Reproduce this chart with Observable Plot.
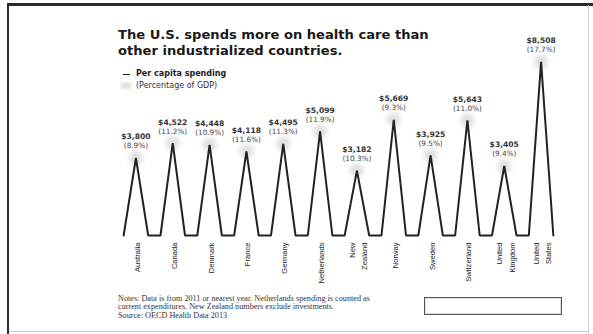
<!DOCTYPE html>
<html>
<head>
<meta charset="utf-8">
<script src="https://cdn.jsdelivr.net/npm/d3@7"></script>
<script src="https://cdn.jsdelivr.net/npm/@observablehq/plot@0.6"></script>
<style>
  html, body { margin: 0; padding: 0; background: #fff; }
  #wrap { position: relative; width: 593px; height: 334px; overflow: hidden; background: #fff; font-family: "DejaVu Sans", sans-serif; }
  #wrap svg { position: absolute; left: 0; top: 0; }
  .abs { position: absolute; white-space: nowrap; }
  #title { left: 118px; top: 27px; font-weight: bold; font-size: 13.1px; line-height: 15.7px; color: #1a1a1a; }
  #leg1 { left: 136px; top: 69px; font-weight: bold; font-size: 8px; color: #222; }
  #leg1dash { left: 123px; top: 73.5px; width: 7px; height: 1.6px; background: #222; }
  #leg2 { left: 136px; top: 81px; font-size: 8px; color: #333; }
  #leg2sw { left: 121px; top: 82px; width: 10px; height: 7px; background: #e4e4e4; filter: blur(1px); }
  #note { left: 118px; top: 295px; font-family: "Liberation Serif", serif; font-size: 8.2px; line-height: 8.3px; color: #333; }
  #box { left: 424px; top: 296.5px; width: 136px; height: 16px; border: 1.6px solid #555; box-shadow: inset 0 0 0 1px #ddd; }
  #ftop { left: 7px; top: 3px; width: 586px; height: 2.5px; background: #2a2a2a; }
  #fleft { left: 7px; top: 3px; width: 2px; height: 331px; background: #2a2a2a; }
  #fright { left: 588px; top: 5px; width: 1px; height: 329px; background: #ccc; }
  #fbottom { left: 9px; top: 330.5px; width: 580px; height: 1px; background: #ccc; }
</style>
</head>
<body>
<div id="wrap">
  <div class="abs" id="ftop"></div>
  <div class="abs" id="fleft"></div>
  <div class="abs" id="fright"></div>
  <div class="abs" id="fbottom"></div>
  <div class="abs" id="title">The U.S. spends more on health care than<br>other industrialized countries.</div>
  <div class="abs" id="leg1dash"></div>
  <div class="abs" id="leg1">Per capita spending</div>
  <div class="abs" id="leg2sw"></div>
  <div class="abs" id="leg2">(Percentage of GDP)</div>
  <div class="abs" id="note">Notes: Data is from 2011 or nearest year. Netherlands spending is counted as<br>current expenditures. New Zealand numbers exclude investments.<br>Source: OECD Health Data 2013</div>
  <div class="abs" id="box"></div>
</div>
<script>
const countries = ["Australia", "Canada", "Denmark", "France", "Germany", "Netherlands",
  "New\nZealand", "Norway", "Sweden", "Switzerland", "United\nKingdom", "United\nStates"];
const spending = [3800, 4522, 4448, 4118, 4495, 5099, 3182, 5669, 3925, 5643, 3405, 8508];
const gdpShare = ["8.9", "11.2", "10.9", "11.6", "11.3", "11.9", "10.3", "9.3", "9.5", "11.0", "9.4", "17.7"];

const peaks = countries.map((c, i) => ({
  i, country: c, v: spending[i],
  money: "$" + d3.format(",")(spending[i]),
  pct: "(" + gdpShare[i] + "%)"
}));
const half = 1 / 3;
const lineData = peaks.flatMap(d => [
  {x: d.i - half, y: 0},
  {x: d.i, y: d.v},
  {x: d.i + half, y: 0}
]);

const chart = Plot.plot({
  width: 593,
  height: 334,
  marginLeft: 117,
  marginRight: 34,
  marginTop: 51.4,
  marginBottom: 99,
  style: {fontFamily: "DejaVu Sans", background: "transparent", overflow: "visible"},
  x: {domain: [-0.5, 11.5], axis: null},
  y: {domain: [0, 9000], axis: null},
  marks: [
    Plot.dot(peaks, {x: "i", y: "v", r: 7, fill: "#c4c4c4", fillOpacity: 0.55, stroke: "none"}),
    Plot.line(lineData, {x: "x", y: "y", stroke: "#222", strokeWidth: 2, strokeLinejoin: "miter"}),
    Plot.text(peaks, {x: "i", y: "v", text: "money", dy: -21, fontSize: 7.6, fontWeight: "bold", fill: "#333"}),
    Plot.text(peaks, {x: "i", y: "v", text: "pct", dy: -12, fontSize: 7.3, fill: "#444"}),
    Plot.text(peaks, {x: "i", y: () => 0, text: "country", rotate: -90, textAnchor: "end",
      dy: 7, fontSize: 7.6, lineHeight: 1.65, fontFamily: "Liberation Sans", fill: "#222"})
  ]
});
chart.querySelectorAll("circle").forEach(c => c.style.filter = "blur(2.5px)");
document.getElementById("wrap").appendChild(chart);
</script>
</body>
</html>
